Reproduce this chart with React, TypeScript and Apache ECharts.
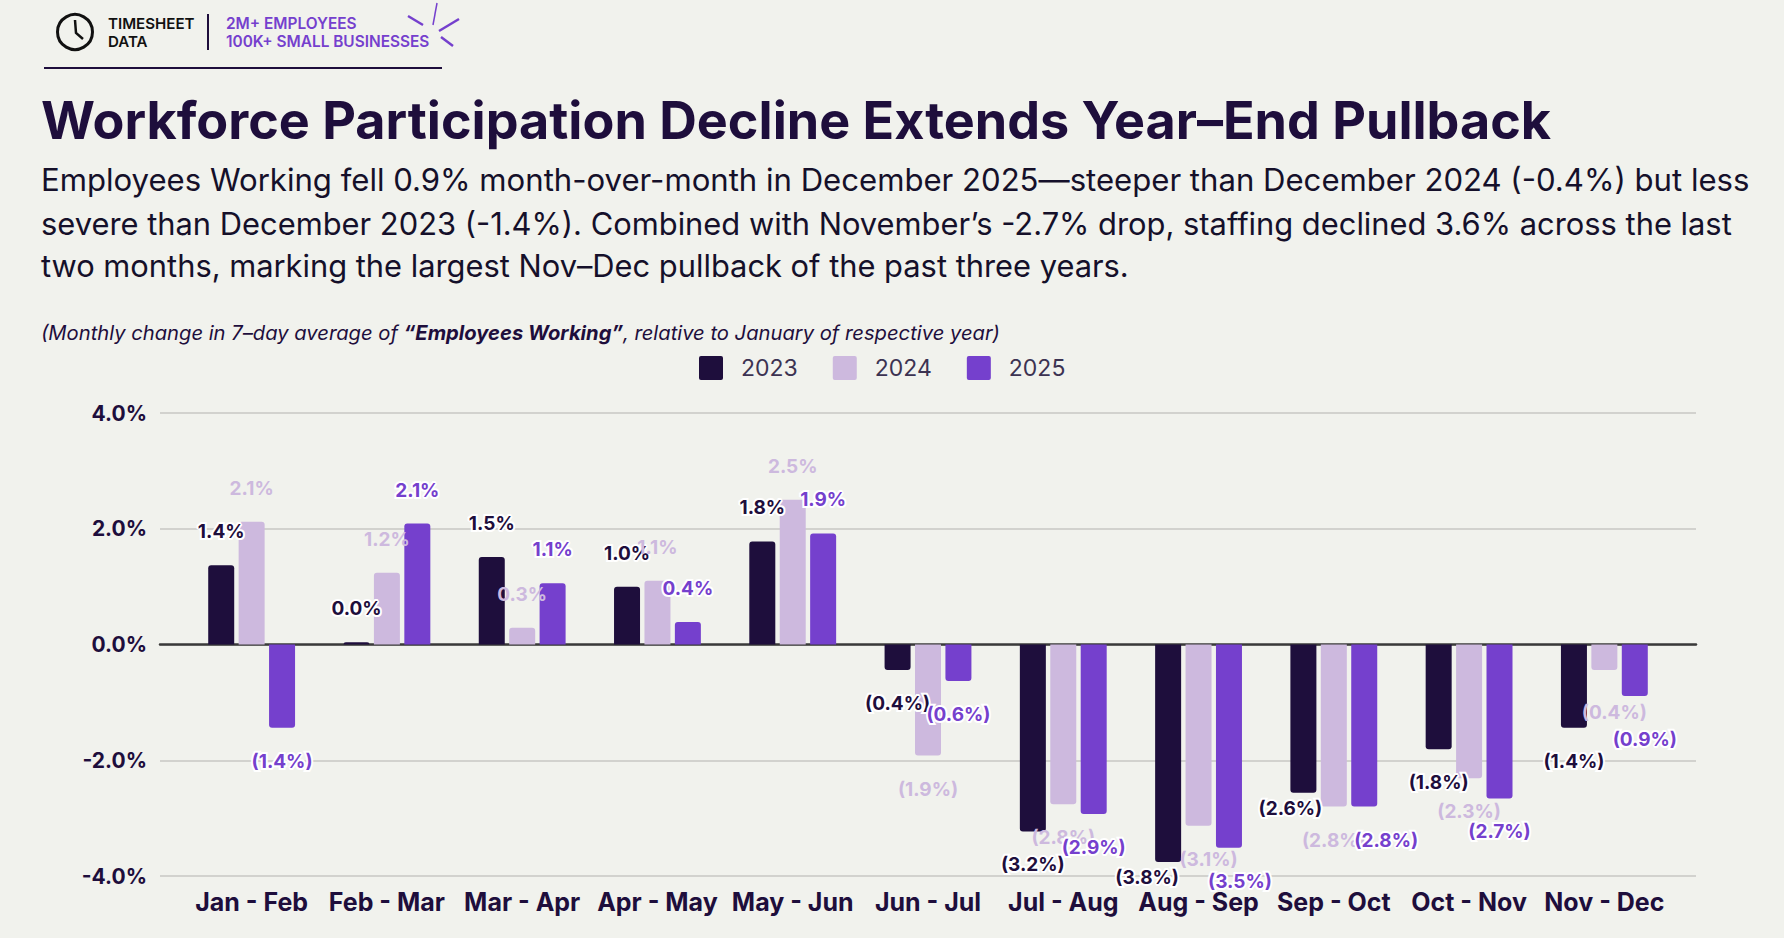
import React, { useEffect, useRef } from "react";
import * as echarts from "echarts";

const categories = ["Jan - Feb", "Feb - Mar", "Mar - Apr", "Apr - May", "May - Jun", "Jun - Jul", "Jul - Aug", "Aug - Sep", "Sep - Oct", "Oct - Nov", "Nov - Dec"];
const values2023 = [1.37, 0.04, 1.51, 1.0, 1.78, -0.44, -3.23, -3.76, -2.56, -1.81, -1.44];
const values2024 = [2.12, 1.24, 0.29, 1.1, 2.5, -1.92, -2.76, -3.13, -2.8, -2.31, -0.44];
const values2025 = [-1.44, 2.09, 1.06, 0.39, 1.92, -0.63, -2.93, -3.51, -2.8, -2.66, -0.89];

const titleText = "Workforce Participation Decline Extends Year–End Pullback";
const bodyLines = [
  "Employees Working fell 0.9% month-over-month in December 2025—steeper than December 2024 (-0.4%) but less",
  "severe than December 2023 (-1.4%). Combined with November’s -2.7% drop, staffing declined 3.6% across the last",
  "two months, marking the largest Nov–Dec pullback of the past three years.",
];

// Labels the reference moved away from their default spot (category index -> [dx, dy]).
const nudges2023: Record<number, number[]> = { 7: [-21, -18], 8: [-13, -18] };
const nudges2024: Record<number, number[]> = { 7: [10, 0], 10: [10, 9] };
const nudges2025: Record<number, number[]> = { 7: [11, 0], 8: [22, 0], 10: [10, 10] };

const DARK = "#1e0e3c";
const PALE = "#cdb9de";
const PURPLE = "#7540cd";
const BG = "#f1f2ed";
const FONT = "Inter";
const LEGEND_ICON = "path://M2,0H22Q24,0 24,2V22Q24,24 22,24H2Q0,24 0,22V2Q0,0 2,0Z";

const fmt = (p: any) => {
  const v = p.value as number;
  const s = Math.abs(v).toFixed(1) + "%";
  return v < 0 ? `(${s})` : s;
};

const barSeries = (name: string, values: number[], color: string, halo: boolean, nudges: Record<number, number[]>) => ({
  name,
  type: "bar",
  xAxisIndex: 0,
  yAxisIndex: 0,
  barWidth: 26,
  barGap: "17%",
  itemStyle: { color },
  data: values.map((v, i) => ({
    value: v,
    itemStyle: { color, borderRadius: v >= 0 ? [3, 3, 0, 0] : [0, 0, 3, 3] },
    ...(nudges[i] ? { label: { offset: nudges[i] } } : {}),
  })),
  label: {
    show: true,
    position: "outside",
    distance: 24,
    formatter: fmt,
    color,
    fontFamily: FONT,
    fontWeight: 700,
    fontSize: 19,
    textBorderColor: halo ? "#ffffff" : "transparent",
    textBorderWidth: halo ? 4 : 0,
  },
});

const text = (x: number, y: number, t: string, fontSize: number, fontWeight: number, fill: string) => ({
  type: "text",
  x,
  y,
  style: { text: t, fontSize, fontWeight, fill, fontFamily: FONT, verticalAlign: "middle" },
});

const seg = (x1: number, y1: number, x2: number, y2: number, stroke: string, lineWidth: number) => ({
  type: "line",
  shape: { x1, y1, x2, y2 },
  style: { stroke, lineWidth },
});

const yLabelStyle = { color: DARK, fontFamily: FONT, fontWeight: 700, fontSize: 21 };

export default function App() {
  const ref = useRef<HTMLDivElement>(null);
  useEffect(() => {
    document.body.style.margin = "0";
    document.body.style.background = BG;
    const chart = echarts.init(ref.current!, undefined, { renderer: "svg" });
    chart.setOption({
      animation: false,
      backgroundColor: BG,
      legend: {
        left: 694,
        top: 351,
        itemWidth: 24,
        itemHeight: 24,
        itemGap: 35,
        icon: LEGEND_ICON,
        selectedMode: false,
        data: ["2023", "2024", "2025"],
        textStyle: { color: "#3c3352", fontFamily: FONT, fontSize: 23, padding: [0, 0, 0, 13] },
      },
      grid: [
        { left: 184, right: 112, top: 413, bottom: 62 },
        { left: 160, right: 88, top: 413, bottom: 62 },
      ],
      xAxis: [
        {
          type: "category",
          gridIndex: 0,
          data: categories,
          position: "bottom",
          axisLine: { show: false, onZero: false },
          axisTick: { show: false },
          axisLabel: { color: DARK, fontFamily: FONT, fontWeight: 700, fontSize: 25, margin: 13, interval: 0 },
        },
        {
          type: "value",
          gridIndex: 1,
          min: 0,
          max: 1,
          axisLine: { show: true, onZero: true, lineStyle: { color: "#3a3a3a", width: 2.5 } },
          axisTick: { show: false },
          axisLabel: { show: false },
          splitLine: { show: false },
        },
      ],
      yAxis: [
        { type: "value", gridIndex: 0, min: -4, max: 4, interval: 2, show: false },
        {
          type: "value",
          gridIndex: 1,
          min: -4,
          max: 4,
          interval: 2,
          axisLine: { show: false },
          axisTick: { show: false },
          axisLabel: { ...yLabelStyle, margin: 13, formatter: (v: number) => `${v.toFixed(1)}%` },
          splitLine: { show: true, lineStyle: { color: "#d2d2ce", width: 2 } },
        },
      ],
      series: [
        barSeries("2023", values2023, DARK, true, nudges2023),
        barSeries("2024", values2024, PALE, false, nudges2024),
        barSeries("2025", values2025, PURPLE, true, nudges2025),
      ],
      graphic: [
        { type: "circle", shape: { cx: 75, cy: 32, r: 17.5 }, style: { fill: "none", stroke: "#111111", lineWidth: 3 } },
        { type: "polyline", shape: { points: [[75, 20], [76, 33], [83, 39]] }, style: { fill: "none", stroke: "#111111", lineWidth: 2.5 } },
        text(108, 23.5, "TIMESHEET", 15.1, 600, "#111111"),
        text(108, 41.5, "DATA", 15.1, 600, "#111111"),
        seg(208, 14, 208, 50, DARK, 2),
        text(226, 23.5, "2M+ EMPLOYEES", 15.4, 600, PURPLE),
        text(226, 41.5, "100K+ SMALL BUSINESSES", 15.4, 600, PURPLE),
        seg(408, 16, 423, 25, PURPLE, 2.5),
        seg(437, 3, 433, 25, PURPLE, 1.5),
        seg(459, 19, 439, 31, PURPLE, 2.5),
        seg(441, 37, 453, 46, PURPLE, 2.5),
        seg(44, 68, 442, 68, DARK, 2),
        text(41, 120, titleText, 52.1, 700, DARK),
        text(41, 180, bodyLines[0], 31.12, 400, "#15102a"),
        text(41, 223, bodyLines[1], 30.87, 400, "#15102a"),
        text(41, 265.5, bodyLines[2], 30.84, 400, "#15102a"),
        {
          type: "text",
          x: 41,
          y: 332,
          style: {
            text: "{a|(Monthly change in 7–day average of }{b|“Employees Working”}{a|, relative to January of respective year)}",
            verticalAlign: "middle",
            rich: {
              a: { fontFamily: FONT, fontStyle: "italic", fontSize: 20.2, fontWeight: 400, fill: DARK, color: DARK },
              b: { fontFamily: FONT, fontStyle: "italic", fontSize: 20.2, fontWeight: 700, fill: DARK, color: DARK },
            },
          },
        },
      ],
    });
    return () => chart.dispose();
  }, []);
  return <div ref={ref} style={{ position: "absolute", left: 0, top: 0, width: 1784, height: 938 }} />;
}
